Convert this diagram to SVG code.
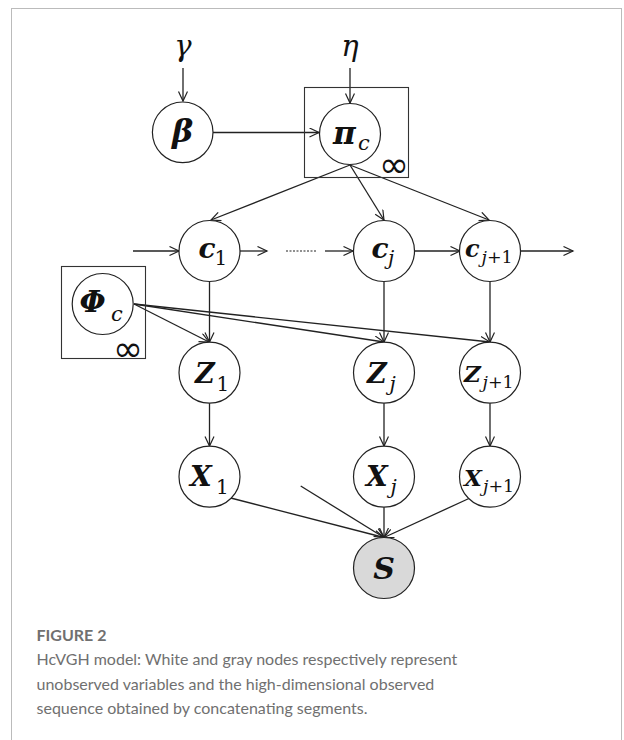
<svg xmlns="http://www.w3.org/2000/svg" width="624" height="740" viewBox="0 0 624 740">
<defs>
<marker id="arr" markerUnits="userSpaceOnUse" markerWidth="12" markerHeight="12" viewBox="0 0 12 12" refX="10" refY="5" orient="auto">
<path d="M0.5,0.5 L10,5 L0.5,9.5" fill="none" stroke="#222" stroke-width="1.2"/>
</marker>
<style>
.node{fill:#fff;stroke:#222;stroke-width:1.2}
.obs{fill:#d9d9d9;stroke:#222;stroke-width:1.2}
.plate{fill:none;stroke:#333;stroke-width:1.1}
.edge{fill:none;stroke:#222;stroke-width:1.3;marker-end:url(#arr)}
.m{font-family:"DejaVu Serif","Liberation Serif",serif;font-weight:bold;font-style:italic;fill:#111}
.sub{font-family:"DejaVu Serif","Liberation Serif",serif;font-weight:normal;font-style:normal;fill:#111}
.subi{font-family:"DejaVu Serif","Liberation Serif",serif;font-weight:normal;font-style:italic;fill:#111}
.hyp{font-family:"DejaVu Serif","Liberation Serif",serif;font-style:italic;font-size:29px;fill:#111;text-anchor:middle}
.inf{font-family:"DejaVu Sans","Liberation Sans",sans-serif;font-size:36px;fill:#111;text-anchor:middle}
.cap{font-family:Lato,"Open Sans",sans-serif;font-size:16px;fill:#707070}
</style>
</defs>
<rect x="11.5" y="8.5" width="610" height="760" fill="none" stroke="#bbb" stroke-width="1"/>

<g id="connectors">
<line class="edge" x1="183" y1="68" x2="183" y2="101"/>
<line class="edge" x1="350" y1="68" x2="350" y2="103"/>
<line class="edge" x1="213" y1="132.5" x2="319" y2="132.5"/>
<line class="edge" x1="350" y1="165" x2="211" y2="220"/>
<line class="edge" x1="350" y1="165" x2="384" y2="220"/>
<line class="edge" x1="350" y1="165" x2="489" y2="220"/>
<line class="edge" x1="133" y1="251" x2="179" y2="251"/>
<line class="edge" x1="240" y1="251" x2="267" y2="251"/>
<line x1="286" y1="251" x2="316" y2="251" fill="none" stroke="#222" stroke-width="1.1" stroke-dasharray="2,1.5"/>
<line class="edge" x1="325" y1="251" x2="353" y2="251"/>
<line class="edge" x1="414" y1="251" x2="460" y2="251"/>
<line class="edge" x1="520" y1="251" x2="573" y2="251"/>
<line class="edge" x1="209.5" y1="282" x2="209.5" y2="342"/>
<line class="edge" x1="384" y1="282" x2="384" y2="342"/>
<line class="edge" x1="490" y1="282" x2="490" y2="342"/>
<line class="edge" x1="134" y1="304" x2="209" y2="342"/>
<line class="edge" x1="134" y1="304" x2="384" y2="342"/>
<line class="edge" x1="134" y1="304" x2="490" y2="342"/>
<line class="edge" x1="209.5" y1="403" x2="209.5" y2="446"/>
<line class="edge" x1="384" y1="403" x2="384" y2="446"/>
<line class="edge" x1="490" y1="403" x2="490" y2="446"/>
<line class="edge" x1="230.7" y1="498" x2="384" y2="537.5"/>
<line class="edge" x1="300.7" y1="486" x2="384" y2="537.5"/>
<line class="edge" x1="384" y1="507" x2="384" y2="537.5"/>
<line class="edge" x1="470" y1="498" x2="384" y2="537.5"/>
</g>

<g id="gamma"><text class="hyp" x="183" y="56">γ</text></g>
<g id="eta"><text class="hyp" x="350" y="56">η</text></g>

<g id="beta">
<circle class="node" cx="182.7" cy="132.3" r="30.3"/>
<text class="m" x="182.5" y="142" font-size="32" text-anchor="middle">β</text>
</g>

<g id="pi_c">
<rect class="plate" x="304.5" y="87.5" width="104" height="90"/>
<circle class="node" cx="350" cy="134" r="30.5"/>
<text class="m" x="333" y="143.5" font-size="31">π</text>
<text class="subi" x="358" y="150" font-size="21">c</text>
<text class="inf" x="394" y="177">∞</text>
</g>

<g id="phi_c">
<rect class="plate" x="61.5" y="266.5" width="84" height="92"/>
<circle class="node" cx="102.7" cy="304" r="30.5"/>
<text class="m" x="79.5" y="312" font-size="30">Φ</text>
<text class="subi" x="111" y="320.5" font-size="21">c</text>
<text class="inf" x="128" y="361">∞</text>
</g>

<g id="c1">
<circle class="node" cx="209.5" cy="251" r="30.5"/>
<text class="m" x="198.5" y="257.5" font-size="28">c</text>
<text class="sub" x="214.5" y="264.5" font-size="20">1</text>
</g>

<g id="cj">
<circle class="node" cx="384" cy="251" r="30.5"/>
<text class="m" x="371.5" y="257.5" font-size="28">c</text>
<text class="subi" x="388" y="264.5" font-size="20">j</text>
</g>

<g id="cj1">
<circle class="node" cx="490" cy="251" r="30.5"/>
<text class="m" x="465" y="256.5" font-size="24">c</text>
<text class="subi" x="481.5" y="262.5" font-size="17.5">j<tspan class="sub">+1</tspan></text>
</g>

<g id="Z1">
<circle class="node" cx="209.5" cy="372.7" r="30.5"/>
<text class="m" x="195" y="383.3" font-size="27">Z</text>
<text class="sub" x="216.5" y="390.7" font-size="20">1</text>
</g>

<g id="Zj">
<circle class="node" cx="384" cy="372.7" r="30.5"/>
<text class="m" x="367" y="383.3" font-size="27">Z</text>
<text class="subi" x="389.5" y="390.7" font-size="20">j</text>
</g>

<g id="Zj1">
<circle class="node" cx="490" cy="372.7" r="30.5"/>
<text class="m" x="464" y="381.5" font-size="23">Z</text>
<text class="subi" x="482.5" y="387.5" font-size="17.5">j<tspan class="sub">+1</tspan></text>
</g>

<g id="X1">
<circle class="node" cx="209.5" cy="476.7" r="30.5"/>
<text class="m" x="190" y="486" font-size="28">X</text>
<text class="sub" x="216" y="493.5" font-size="20">1</text>
</g>

<g id="Xj">
<circle class="node" cx="384" cy="476.7" r="30.5"/>
<text class="m" x="366" y="486" font-size="28">X</text>
<text class="subi" x="390.5" y="493.5" font-size="20">j</text>
</g>

<g id="Xj1">
<circle class="node" cx="490" cy="476.7" r="30.5"/>
<text class="m" x="464" y="485.5" font-size="23">X</text>
<text class="subi" x="483" y="491.5" font-size="17.5">j<tspan class="sub">+1</tspan></text>
</g>

<g id="S">
<circle class="obs" cx="384" cy="568" r="30.5"/>
<text class="m" x="384" y="578.8" font-size="30" text-anchor="middle">S</text>
</g>

<g id="caption">
<text class="cap" x="36.5" y="640.5" font-weight="bold" fill="#666">FIGURE 2</text>
<text class="cap" x="36.5" y="665">HcVGH model: White and gray nodes respectively represent</text>
<text class="cap" x="36.5" y="689.5">unobserved variables and the high-dimensional observed</text>
<text class="cap" x="36.5" y="713.5">sequence obtained by concatenating segments.</text>
</g>
</svg>
